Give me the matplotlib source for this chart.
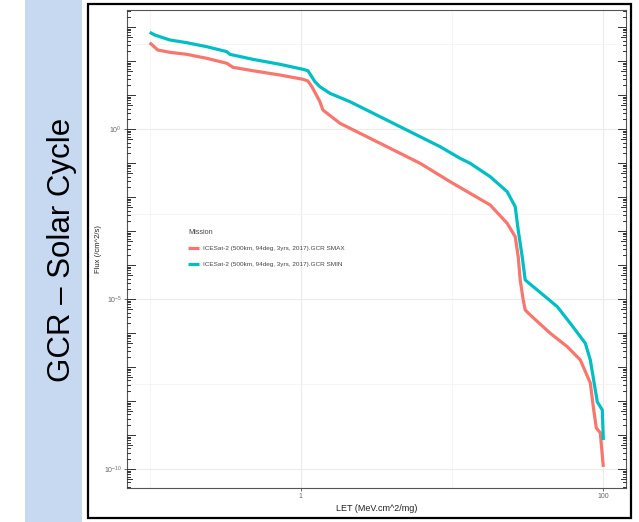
import matplotlib
matplotlib.use("Agg")
import matplotlib.pyplot as plt
import numpy as np
from matplotlib.patches import Rectangle

plt.rcParams['font.family'] = ['Liberation Sans', 'DejaVu Sans']
plt.rcParams['mathtext.fontset'] = 'custom'
plt.rcParams['mathtext.rm'] = 'Liberation Sans'
plt.rcParams['mathtext.it'] = 'Liberation Sans'

# GCR SMAX (red)
smax_let = [0.100, 0.113, 0.136, 0.176, 0.238, 0.324, 0.355, 0.481, 0.726, 1.031,
            1.113, 1.183, 1.336, 1.398, 1.813, 2.459, 3.886, 6.140, 9.700, 13.16,
            17.86, 23.13, 26.14, 27.36, 28.21, 29.53, 30.44, 32.86, 44.57, 57.77,
            70.42, 82.03, 85.87, 89.87, 95.52, 100.0]
smax_flux = [345, 211, 180, 157, 120, 85.6, 65.3, 51.8, 38.7, 29.0,
             25.8, 17.5, 6.35, 3.62, 1.47, 0.748, 0.271, 0.098, 0.0282, 0.0128,
             5.82e-3, 1.68e-3, 6.79e-4, 1.75e-4, 3.62e-5, 9.35e-6, 4.75e-6, 3.38e-6, 9.8e-7, 3.95e-7,
             1.61e-7, 3.38e-8, 6.66e-9, 1.61e-9, 1.15e-9, 1.15e-10]

# GCR SMIN (cyan)
smin_let = [0.100, 0.108, 0.136, 0.176, 0.238, 0.324, 0.339, 0.481, 0.726, 1.031,
            1.113, 1.238, 1.336, 1.556, 2.111, 3.336, 5.272, 8.329, 11.30, 13.16,
            17.86, 23.13, 26.14, 27.36, 29.08, 30.44, 36.55, 49.60, 60.46, 76.01,
            82.03, 88.52, 91.26, 98.49, 100.0]
smin_flux = [698, 582, 415, 345, 264, 188, 157, 112, 80, 57,
             51.8, 24.6, 17.5, 11.2, 6.35, 2.30, 0.833, 0.302, 0.137, 0.098,
             0.0395, 0.0143, 5.18e-3, 1.07e-3, 1.75e-4, 3.62e-5, 1.84e-5, 5.94e-6, 1.93e-6, 4.98e-7,
             1.61e-7, 2.11e-8, 9.35e-9, 5.43e-9, 7.13e-10]

labels = ["ICESat-2 (500km, 94deg, 3yrs, 2017).GCR SMAX",
          "ICESat-2 (500km, 94deg, 3yrs, 2017).GCR SMIN"]
colors = ["#F8766D", "#00BFC4"]

x_ticks = [1, 100]
x_ticklabels = ["1", "100"]
y_ticks = [1e0, 1e-5, 1e-10]
y_ticklabels = [r"$10^{0}$", r"$10^{-5}$", r"$10^{-10}$"]

W, H = 639, 522
fig = plt.figure(figsize=(W / 100, H / 100), dpi=100)

# slide decorations: blue band with title and black frame
fig.patches.append(Rectangle((25 / W, 0), 57 / W, 1, transform=fig.transFigure,
                             facecolor="#c6d9f1", edgecolor="none", zorder=0))
fig.text(62 / W, 1 - 250 / H, "GCR \u2013 Solar Cycle", rotation=90,
         ha="center", va="center", fontsize=22.5, color="black")
fig.patches.append(Rectangle((88 / W, 4 / H), 543 / W, 514 / H, transform=fig.transFigure,
                             facecolor="none", edgecolor="black", lw=1.6, zorder=5))

ax = fig.add_axes([127 / W, 1 - 488 / H, 499 / W, 478 / H])
ax.set_xscale("log")
ax.set_yscale("log")

ax.plot(smax_let, smax_flux, color=colors[0], lw=2.3, label=labels[0],
        solid_capstyle="butt", solid_joinstyle="round", zorder=3)
ax.plot(smin_let, smin_flux, color=colors[1], lw=2.3, label=labels[1],
        solid_capstyle="butt", solid_joinstyle="round", zorder=3)

ax.set_xlim(10 ** -1.15, 10 ** 2.15)
ax.set_ylim(10 ** -10.56, 10 ** 3.5)

# grid: majors at labelled breaks, minors in between
ax.set_xticks(x_ticks)
ax.set_xticklabels(x_ticklabels)
ax.set_xticks([0.1, 10], minor=True)
ax.set_yticks(y_ticks)
ax.set_yticklabels(y_ticklabels)
ax.set_yticks([10 ** 2.5, 10 ** -2.5, 10 ** -7.5], minor=True)
ax.xaxis.set_minor_formatter(matplotlib.ticker.NullFormatter())
ax.yaxis.set_minor_formatter(matplotlib.ticker.NullFormatter())
ax.grid(True, which="major", color="#ebebeb", lw=0.8, zorder=0)
ax.grid(True, which="minor", color="#f2f2f2", lw=0.5, zorder=0)
ax.set_axisbelow(True)

ax.tick_params(which="major", length=2.2, width=0.5, color="#333333",
               labelsize=5, labelcolor="#666666", pad=1.5)
ax.tick_params(which="minor", length=0)
for s in ax.spines.values():
    s.set_color("#555555")
    s.set_linewidth(0.8)

# annotation log ticks on left and right
tr = ax.get_yaxis_transform()
for dec in range(-11, 4):
    for m in range(1, 10):
        v = m * 10.0 ** dec
        if v < 10 ** -10.56 or v > 10 ** 3.5:
            continue
        ln = 0.017 if m == 1 else (0.010 if m == 5 else 0.006)
        ax.plot([0, ln], [v, v], color="#333333", lw=0.7, transform=tr,
                clip_on=False, zorder=4)
        ax.plot([1 - ln, 1], [v, v], color="#333333", lw=0.7, transform=tr,
                clip_on=False, zorder=4)

ax.set_xlabel("LET (MeV.cm^2/mg)", fontsize=6.5, color="#222222", labelpad=3)
ax.set_ylabel("Flux (/cm^2/s)", fontsize=5.5, color="#222222", labelpad=1)

leg = ax.legend(loc="upper left", bbox_to_anchor=(188 / W, 1 - 229 / H),
                bbox_transform=fig.transFigure, frameon=False, fontsize=4.6,
                title="Mission", title_fontsize=5.2, alignment="left",
                handlelength=1.7, handletextpad=0.6, labelspacing=1.55,
                borderpad=0, borderaxespad=0)
for t in leg.get_texts():
    t.set_color("#444444")
leg.get_title().set_color("#444444")

fig.savefig("out.png", dpi=100)
